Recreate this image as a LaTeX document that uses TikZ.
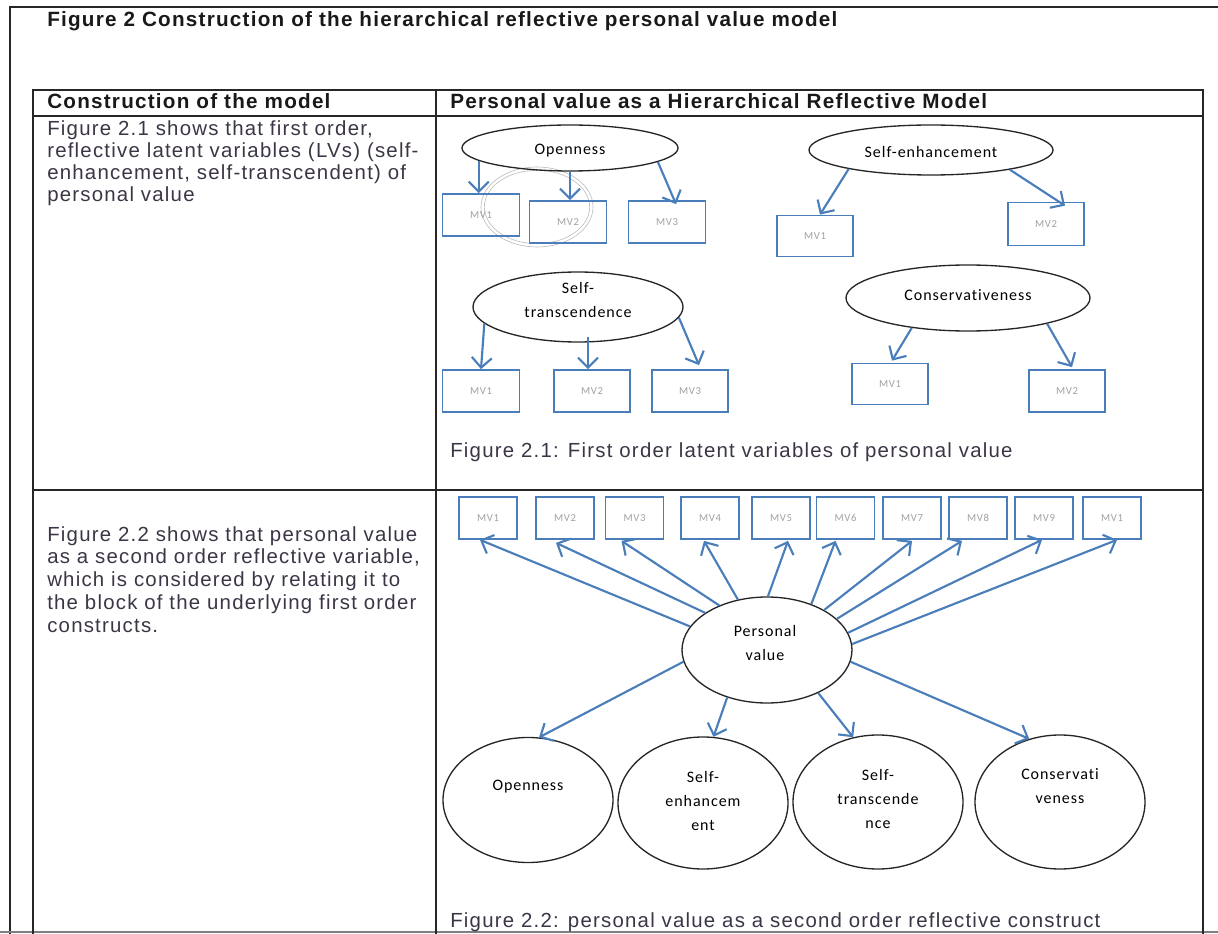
\documentclass[tikz,border=0pt]{standalone}
\usepackage{fontspec}
\setmainfont{Liberation Sans}
\newfontfamily\arialsp[LetterSpace=6]{Liberation Sans}
\newfontfamily\calsp[LetterSpace=6,RawFeature=-liga]{Carlito}
\usetikzlibrary{arrows.meta,shapes.geometric,calc}
\definecolor{ablue}{HTML}{4A7EBB}
\definecolor{txt}{HTML}{3C3545}
\definecolor{mvg}{HTML}{A0A0A0}
\begin{document}
\begin{tikzpicture}[x=0.75pt,y=-0.75pt,
  frame/.style={line width=1.2pt,draw=black!85},
  arr/.style={draw=ablue,line width=1.6pt,-{Straight Barb[length=7.5pt,width=15pt]}},
  lv/.style={ellipse,draw=black!85,line width=1pt,inner sep=0pt},
  mv/.style={rectangle,draw=ablue,line width=1.3pt,inner sep=0pt,font=\calsp\fontsize{8}{9}\selectfont,text=mvg},
  lvtext/.style={font=\calsp\fontsize{12}{18}\selectfont,align=center,inner sep=0pt,text=black},
  body/.style={font=\arialsp\fontsize{15.3}{16.6}\selectfont,text=txt,inner sep=0pt,align=left},
  captxt/.style={font=\arialsp\fontsize{15.3}{17}\selectfont,text=txt,inner sep=0pt},
  head/.style={font=\arialsp\bfseries\fontsize{15.5}{17}\selectfont,text=black!90,inner sep=0pt},
]
\useasboundingbox (0,0) rectangle (1218,934);
% frames
\draw[frame] (10,934) -- (10,7) -- (1218,7);
\draw[black!50,line width=0.8pt] (0,932) -- (1218,932);
\draw[frame] (33,934) -- (33,90) -- (1203,90) -- (1203,934);
\draw[frame] (33,116) -- (1203,116);
\draw[frame] (33,490) -- (1203,490);
\draw[frame] (436,90) -- (436,934);
% titles
\node[head,anchor=base west] (title) at (47,27) {Figure 2 Construction of the hierarchical reflective personal value model};
\node[head,anchor=base west] (h1) at (47,109) {Construction of the model};
\node[head,anchor=base west] (h2) at (450,109) {Personal value as a Hierarchical Reflective Model};
\node[body,anchor=north west] (p1) at (47,120) {Figure 2.1 shows that first order,\\reflective latent variables (LVs) (self-\\enhancement, self-transcendent) of\\personal value};
\node[body,anchor=north west,font=\arialsp\fontsize{15.3}{17.2}\selectfont] (p2) at (47,526) {Figure 2.2 shows that personal value\\as a second order reflective variable,\\which is considered by relating it to\\the block of the underlying first order\\constructs.};
\node[captxt,anchor=base west] (cap1) at (450,457) {Figure 2.1: First order latent variables of personal value};
\node[captxt,anchor=base west] (cap2) at (450,927) {Figure 2.2: personal value as a second order reflective construct};
% faint double ellipse
\draw[black!25,line width=0.5pt] (537,207) ellipse [x radius=42pt,y radius=30pt];
\draw[black!25,line width=0.5pt] (537,207) ellipse [x radius=39.5pt,y radius=27.5pt];
% part 1 ellipses
\node[lv,minimum width=216*0.75pt,minimum height=46*0.75pt] (op) at (570,148) {};
\node[lvtext] (opt) at (570,151) {Openness};
\node[lv,minimum width=244*0.75pt,minimum height=50*0.75pt] (se) at (931,150) {};
\node[lvtext] (set) at (931,152) {Self-enhancement};
\node[lv,minimum width=210*0.75pt,minimum height=70*0.75pt] (st) at (578,307) {};
\node[lvtext] (stt) at (578,300) {Self-\\transcendence};
\node[lv,minimum width=244*0.75pt,minimum height=66*0.75pt] (cv) at (968,298) {};
\node[lvtext] (cvt) at (968,295) {Conservativeness};
% part 1 boxes
\node[mv,minimum width=77*0.75pt,minimum height=42*0.75pt] (om1) at (481,215) {MV1};
\node[mv,minimum width=77*0.75pt,minimum height=42*0.75pt] (om2) at (568,222) {MV2};
\node[mv,minimum width=77*0.75pt,minimum height=42*0.75pt] (om3) at (667,222) {MV3};
\node[mv,minimum width=76*0.75pt,minimum height=41*0.75pt] (em1) at (815,236) {MV1};
\node[mv,minimum width=76*0.75pt,minimum height=43*0.75pt] (em2) at (1046,224) {MV2};
\node[mv,minimum width=77*0.75pt,minimum height=42*0.75pt] (tm1) at (481,391) {MV1};
\node[mv,minimum width=76*0.75pt,minimum height=42*0.75pt] (tm2) at (592,391) {MV2};
\node[mv,minimum width=76*0.75pt,minimum height=42*0.75pt] (tm3) at (690,391) {MV3};
\node[mv,minimum width=76*0.75pt,minimum height=41*0.75pt] (cm1) at (890,384) {MV1};
\node[mv,minimum width=76*0.75pt,minimum height=42*0.75pt] (cm2) at (1067,391) {MV2};
% part 1 arrows
\draw[arr] (op.188) -- (op.188 |- om1.north);
\draw[arr] (op.south) -- (op.south |- om2.north);
\draw[arr] (op.351) -- ($(om3.north)+(9,4)$);
\draw[arr] (se.193) -- ($(em1.north)+(5,0)$);
\draw[arr] (se.346) -- ($(em2.north)+(19,4)$);
\draw[arr] (st.190) -- (tm1.north);
\draw[arr] ($(st.south)+(10,-6)$) -- ($(tm2.north)+(-4,0)$);
\draw[arr] (st.354) -- ($(tm3.north)+(9,-4)$);
\draw[arr] (cv.208) -- ($(cm1.north)+(2,-2)$);
\draw[arr] (cv.342) -- ($(cm2.north)+(5,-2)$);
% part 2
\node[lv,minimum width=170*0.75pt,minimum height=106*0.75pt] (pv) at (767,650) {};
\node[lvtext] (pvt) at (765,643) {Personal\\value};
\foreach \i/\x/\t in {1/488/MV1,2/565/MV2,3/634.5/MV3,4/710/MV4,5/781/MV5,6/845.5/MV6,7/912/MV7,8/978/MV8,9/1044/MV9,10/1112/MV1}{
  \node[mv,minimum width=58*0.75pt,minimum height=42*0.75pt] (q\i) at (\x,518) {\t};
}
\draw[arr] (pv.163) -- ($(q1.south)+(-8,0)$);
\draw[arr] (pv.149) -- ($(q2.south)+(-9,3)$);
\draw[arr] (pv.137) -- ($(q3.south)+(-13,1)$);
\draw[arr] (pv.120) -- ($(q4.south)+(-6,1)$);
\draw[arr] (pv.89) -- ($(q5.south)+(7,1)$);
\draw[arr] (pv.46) -- ($(q6.south)+(-10,1)$);
\draw[arr] (pv.35) -- ($(q7.south)+(0,1)$);
\draw[arr] (pv.24) -- ($(q8.south)+(-16,1)$);
\draw[arr] (pv.12) -- ($(q9.south)+(-2,0)$);
\draw[arr] (pv.4) -- ($(q10.south)+(5,0)$);
\node[lv,minimum width=170*0.75pt,minimum height=125*0.75pt] (o2) at (528,800) {};
\node[lvtext] (o2t) at (528,787) {Openness};
\node[lv,minimum width=170*0.75pt,minimum height=132*0.75pt] (e2) at (703,803) {};
\node[lvtext] (e2t) at (703,801) {Self-\\enhancem\\ent};
\node[lv,minimum width=170*0.75pt,minimum height=134*0.75pt] (t2) at (878,802) {};
\node[lvtext] (t2t) at (878,799) {Self-\\transcende\\nce};
\node[lv,minimum width=170*0.75pt,minimum height=134*0.75pt] (c2) at (1060,802) {};
\node[lvtext] (c2t) at (1060,786) {Conservati\\veness};
\draw[arr] (pv.188) -- (o2.80);
\draw[arr] (pv.230) -- (e2.81);
\draw[arr] (pv.320) -- (t2.111);
\draw[arr] (pv.352) -- (c2.116);
\end{tikzpicture}
\end{document}
